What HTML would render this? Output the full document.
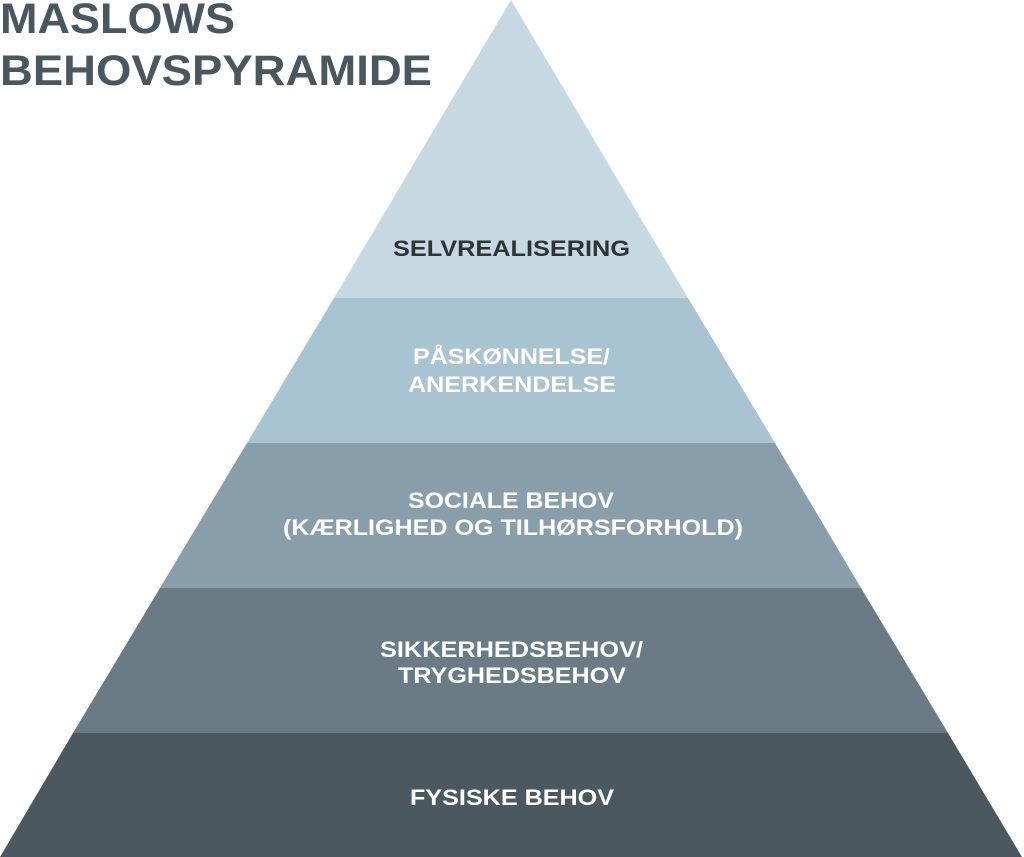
<!DOCTYPE html>
<html><head><meta charset="utf-8"><style>
html,body{margin:0;padding:0;background:#fff;}
svg{display:block;}
text{font-family:"Liberation Sans",Arial,sans-serif;font-weight:bold;}
</style></head><body>
<svg width="1024" height="857" viewBox="0 0 1024 857">
<polygon points="511,0 688,298 334,298" fill="#c6d8e2"/>
<polygon points="334,298 688,298 775,443 247,443" fill="#a8c3d1"/>
<polygon points="247,443 775,443 861,588 160,588" fill="#889fab"/>
<polygon points="160,588 861,588 948,733 73,733" fill="#6b7b85"/>
<polygon points="73,733 948,733 1022,857 0,857" fill="#4c5860"/>
<text x="0" y="33" font-size="43" fill="#4a5660" textLength="235" lengthAdjust="spacingAndGlyphs">MASLOWS</text>
<text x="0" y="85" font-size="43" fill="#4a5660" textLength="432" lengthAdjust="spacingAndGlyphs">BEHOVSPYRAMIDE</text>
<g font-size="22" fill="#fff" lengthAdjust="spacingAndGlyphs">
<text x="393" y="256" fill="#2f3336" textLength="237" lengthAdjust="spacingAndGlyphs">SELVREALISERING</text>
<text x="413" y="364" textLength="197" lengthAdjust="spacingAndGlyphs">PÅSKØNNELSE/</text>
<text x="408" y="392" textLength="208" lengthAdjust="spacingAndGlyphs">ANERKENDELSE</text>
<text x="408" y="508" textLength="206" lengthAdjust="spacingAndGlyphs">SOCIALE BEHOV</text>
<text x="283" y="535" textLength="460" lengthAdjust="spacingAndGlyphs">(KÆRLIGHED OG TILHØRSFORHOLD)</text>
<text x="380" y="657" textLength="263" lengthAdjust="spacingAndGlyphs">SIKKERHEDSBEHOV/</text>
<text x="398" y="683" textLength="228" lengthAdjust="spacingAndGlyphs">TRYGHEDSBEHOV</text>
<text x="410" y="805" textLength="204" lengthAdjust="spacingAndGlyphs">FYSISKE BEHOV</text>
</g>
</svg>
</body></html>
